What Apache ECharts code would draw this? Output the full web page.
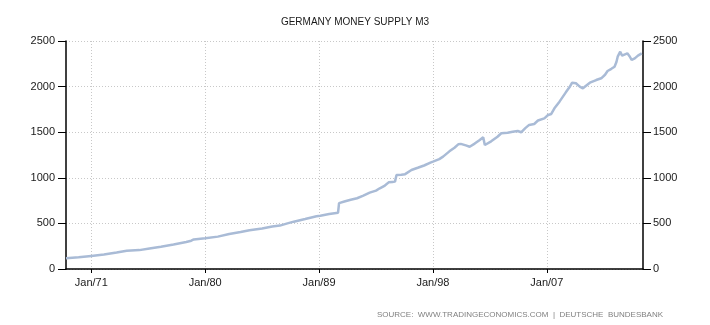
<!DOCTYPE html>
<html>
<head>
<meta charset="utf-8">
<script src="https://cdn.jsdelivr.net/npm/echarts@6/dist/echarts.min.js"></script>
<style>
html,body{margin:0;padding:0;background:#fff;}
#chart{width:710px;height:325px;}
</style>
</head>
<body>
<div id="chart"></div>
<script>
// Decimal year of each observation
var years = [1969.0, 1970.0, 1971.0, 1972.0, 1973.0, 1973.8, 1974.8, 1975.6, 1976.5, 1977.5, 1978.5, 1978.9, 1979.1, 1980.0,
  1981.0, 1981.9, 1982.8, 1983.5, 1984.5, 1985.3, 1985.9, 1986.5, 1987.0, 1987.9, 1988.8, 1989.1, 1989.8, 1990.5,
  1990.58, 1991.0, 1991.5, 1992.0, 1992.5, 1993.0, 1993.5, 1993.8, 1994.2, 1994.5, 1994.8, 1995.0,
  1995.12, 1995.5, 1995.8, 1996.3, 1996.8, 1997.3, 1997.8, 1998.0, 1998.5, 1998.8, 1999.3, 1999.7, 2000.0, 2000.2, 2000.6, 2000.9,
  2001.3, 2001.7, 2001.97, 2002.1, 2002.6, 2003.1, 2003.4, 2003.9, 2004.3, 2004.7, 2004.97, 2005.3, 2005.6, 2006.0, 2006.3, 2006.8,
  2007.1, 2007.35, 2007.6, 2008.0, 2008.5, 2008.8, 2009.0, 2009.3, 2009.6, 2009.85, 2010.1, 2010.4, 2010.9, 2011.3, 2011.6, 2011.8,
  2012.1, 2012.35, 2012.5, 2012.6, 2012.8, 2012.95, 2013.1, 2013.36, 2013.55, 2013.7, 2013.95, 2014.2, 2014.5];
// M3 money supply (EUR billion)
var m3 = [117, 128, 143, 158, 180, 200, 207, 225, 245, 268, 296, 310, 324, 336,
  355, 384, 405, 425, 445, 465, 476, 500, 519, 548, 578, 585, 602, 617,
  722, 740, 760, 776, 805, 837, 860, 885, 915, 950, 955, 958,
  1031, 1033, 1040, 1086, 1110, 1135, 1166, 1177, 1205, 1232, 1290, 1330, 1367, 1372, 1355, 1341,
  1375, 1415, 1444, 1360, 1400, 1450, 1488, 1494, 1505, 1513, 1499, 1545, 1580, 1590, 1628, 1652,
  1689, 1700, 1762, 1835, 1937, 1995, 2043, 2036, 2000, 1981, 2010, 2043, 2072, 2091, 2130, 2171,
  2195, 2218, 2270, 2328, 2383, 2340, 2328, 2365, 2330, 2292, 2310, 2340, 2365];
var yTicks = [0, 500, 1000, 1500, 2000, 2500];
var xTickYears = [1971, 1980, 1989, 1998, 2007];
var xTickLabels = ['Jan/71', 'Jan/80', 'Jan/89', 'Jan/98', 'Jan/07'];

var seriesData = years.map(function (y, i) { return [y, m3[i]]; });
var font = 'Liberation Sans, Arial, sans-serif';
var grid = {left: 66, right: 67, top: 41, bottom: 56};

var chart = echarts.init(document.getElementById('chart'), null, {renderer: 'canvas'});
function yLabel(v) { return String(v); }
chart.setOption({
  animation: false,
  backgroundColor: '#ffffff',
  title: [{
    text: 'GERMANY MONEY SUPPLY M3',
    left: 'center', top: 12,
    textStyle: {fontFamily: font, fontSize: 10, fontWeight: 'normal', color: '#1a1a1a'}
  }, {
    text: 'SOURCE:  WWW.TRADINGECONOMICS.COM  |  DEUTSCHE  BUNDESBANK',
    right: 42, top: 306,
    textStyle: {fontFamily: font, fontSize: 8, fontWeight: 'normal', color: '#808080'}
  }],
  grid: grid,
  xAxis: {
    type: 'value',
    min: 1969,
    max: 2014.6,
    axisLine: {show: true, onZero: false, lineStyle: {color: '#000', width: 1.5}},
    axisTick: {show: true, length: 4, customValues: xTickYears, lineStyle: {color: '#000'}},
    axisLabel: {
      customValues: xTickYears,
      margin: 8,
      fontFamily: font, fontSize: 11, color: '#1a1a1a',
      formatter: function (v) {
        var i = xTickYears.indexOf(Math.round(v));
        return i >= 0 ? xTickLabels[i] : '';
      }
    },
    splitLine: {show: true, lineStyle: {color: '#c8c8c8', type: [1, 2], width: 1}}
  },
  yAxis: [{
    type: 'value', position: 'left', min: 0, max: 2500, interval: 500,
    axisLine: {show: true, lineStyle: {color: '#000', width: 1.5}},
    axisTick: {show: true, length: 8, lineStyle: {color: '#000'}},
    axisLabel: {margin: 11, fontFamily: font, fontSize: 11, color: '#1a1a1a', formatter: yLabel},
    splitLine: {show: true, lineStyle: {color: '#c8c8c8', type: [1, 2], width: 1}}
  }, {
    type: 'value', position: 'right', min: 0, max: 2500, interval: 500,
    axisLine: {show: true, lineStyle: {color: '#000', width: 1.5}},
    axisTick: {show: true, length: 8, lineStyle: {color: '#000'}},
    axisLabel: {margin: 10, fontFamily: font, fontSize: 11, color: '#1a1a1a', formatter: yLabel},
    splitLine: {show: false}
  }],
  series: [{
    type: 'line',
    data: seriesData,
    yAxisIndex: 0,
    showSymbol: false,
    smooth: false,
    lineStyle: {color: '#a9bbd6', width: 2.5},
    itemStyle: {color: '#a9bbd6'}
  }]
});
</script>
</body>
</html>
